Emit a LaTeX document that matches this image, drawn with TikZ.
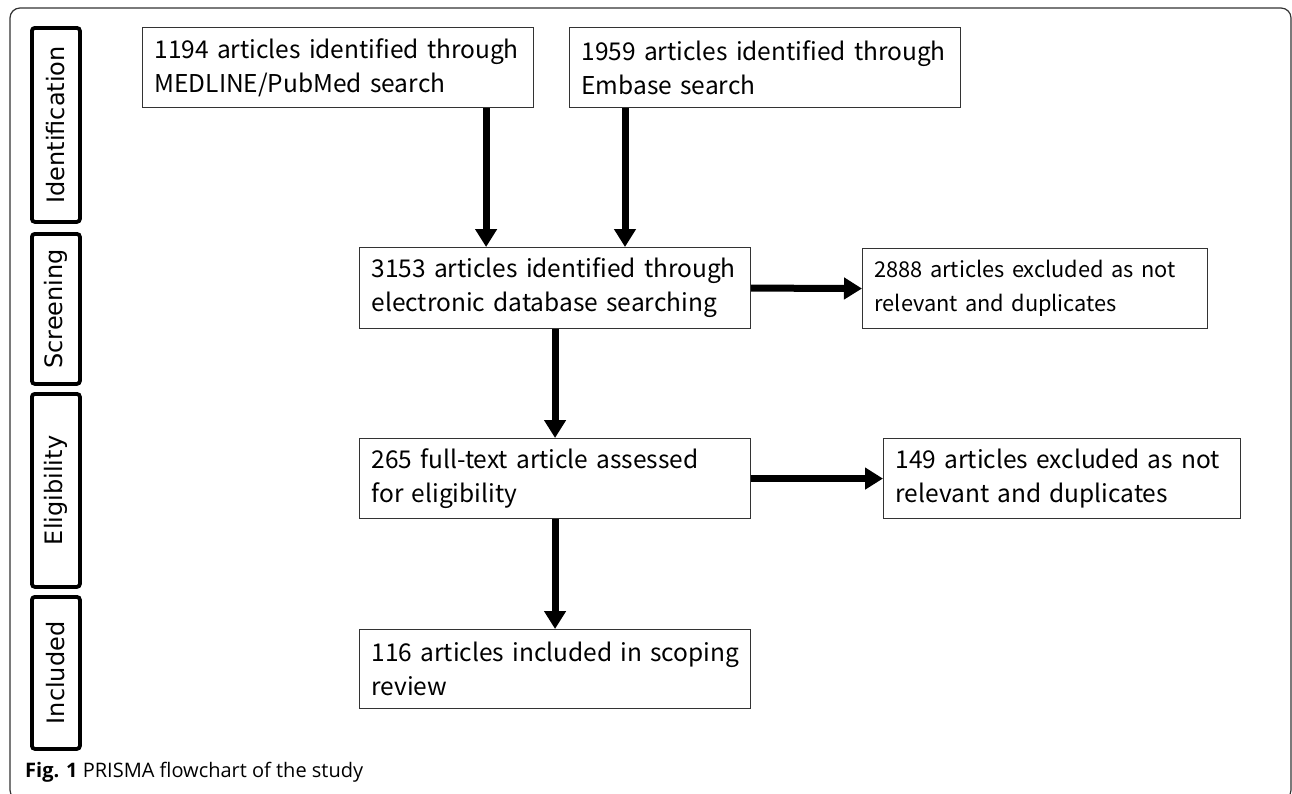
\documentclass[tikz,border=0pt]{standalone}
\usepackage{fontspec}
\setmainfont{Noto Sans CJK JP}
\newfontfamily\labelfont{DejaVu Sans}
\newfontfamily\capfont{Open Sans}
\usetikzlibrary{arrows.meta}
\begin{document}
\begin{tikzpicture}[x=1pt,y=-1pt,
  box/.style={draw=black!80, line width=1.1pt, anchor=north west, inner xsep=12pt, inner ysep=0pt,
    align=left, font=\fontsize{24.5}{34}\selectfont},
  phase/.style={draw=black, line width=3.8pt, rounded corners=3pt, anchor=north west, inner sep=0pt,
    minimum width=48pt},
  plabel/.style={rotate=90, font=\labelfont\fontsize{24}{26}\selectfont},
  arr/.style={line width=7pt, -{Triangle[width=21pt,length=18pt]}}]
\useasboundingbox (0,0) rectangle (1292,793);
\draw[rounded corners=10pt, line width=1.2pt, black!80] (10,8) rectangle (1291,800);
% phase labels
\node[phase, minimum height=194pt] (pid) at (30,26) {};
\node[plabel] (tid) at (pid.center) {Identification};
\node[phase, minimum height=150pt] (psc) at (30,232) {};
\node[plabel] (tsc) at (psc.center) {Screening};
\node[phase, minimum height=193pt] (pel) at (30,392) {};
\node[plabel] (tel) at (pel.center) {Eligibility};
\node[phase, minimum height=152pt] (pin) at (30,595) {};
\node[plabel] (tin) at (pin.center) {Included};
% boxes
\node[box, text width=367pt, minimum height=80pt] (A) at (142,27) {\mbox{1194 articles identified through}\\\mbox{MEDLINE/PubMed search}};
\node[box, text width=367pt, minimum height=80pt] (B) at (569,27) {\mbox{1959 articles identified through}\\\mbox{Embase search}};
\node[box, text width=367pt, minimum height=81pt] (C) at (359,247) {\mbox{3153 articles identified through}\\\mbox{electronic database searching}};
\node[box, text width=321pt, minimum height=80pt, font=\fontsize{21.8}{34}\selectfont] (D) at (862,248) {\mbox{2888 articles excluded as not}\\\mbox{relevant and duplicates}};
\node[box, text width=367pt, minimum height=80pt] (E) at (359,438) {\mbox{265 full-text article assessed}\\\mbox{for eligibility}};
\node[box, text width=333pt, minimum height=80pt] (F) at (883,438) {\mbox{149 articles excluded as not}\\\mbox{relevant and duplicates}};
\node[box, text width=367pt, minimum height=79pt] (G) at (359,629) {\mbox{116 articles included in scoping}\\\mbox{review}};
% arrows
\draw[arr] ([xshift=-48pt]A.south east) -- ([xshift=-48pt]A.south east |- C.north);
\draw[arr] ([xshift=56pt]B.south west) -- ([xshift=56pt]B.south west |- C.north);
\draw[arr] (C.south) -- (E.north);
\draw[arr] (E.south) -- (G.north);
\draw[arr] (C.east) -- (D.west);
\draw[arr] (E.east) -- (F.west);
% caption
\node[anchor=base west, inner sep=0pt, font=\capfont\fontsize{20}{22}\selectfont] (cap) at (25,777) {\textbf{Fig. 1} PRISMA flowchart of the study};
\end{tikzpicture}
\end{document}
